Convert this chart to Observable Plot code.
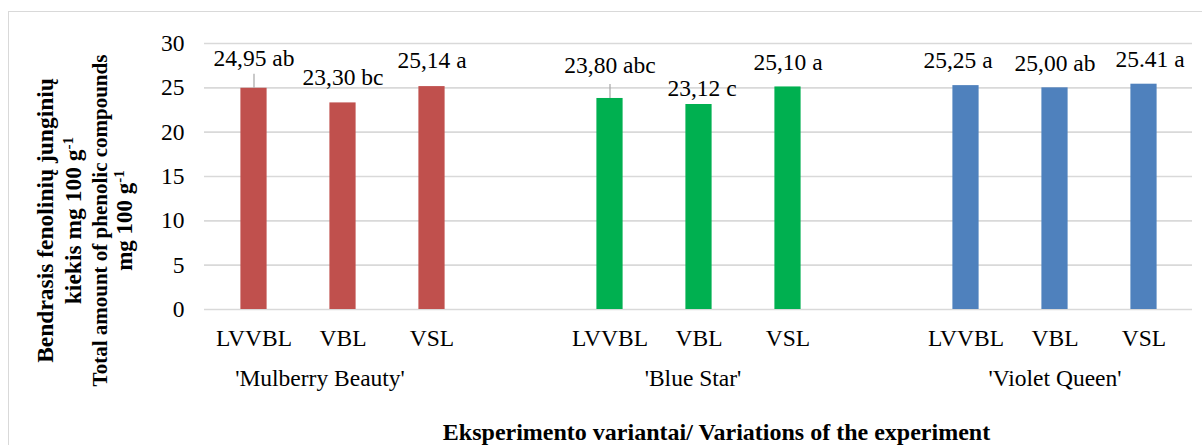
<!DOCTYPE html>
<html>
<head>
<meta charset="utf-8">
<script src="https://cdn.jsdelivr.net/npm/d3@7"></script>
<script src="https://cdn.jsdelivr.net/npm/@observablehq/plot@0.6"></script>
<style>
  html, body { margin: 0; padding: 0; background: #fff; overflow: hidden; }
  #wrap { position: relative; width: 1202px; height: 445px; overflow: hidden; }
  #border { position: absolute; left: 8px; top: 11px; width: 1210px; height: 450px; border: 1.5px solid #d9d9d9; box-sizing: border-box; }
  #chart { position: absolute; left: 0; top: 0; }
</style>
</head>
<body>
<div id="wrap"><div id="border"></div><div id="chart"></div></div>
<script>
// ---- data ----
const cultivars = ["'Mulberry Beauty'", "'Blue Star'", "'Violet Queen'"];
const variants = ["LVVBL", "VBL", "VSL"];
const values = [
  [24.95, 23.30, 25.14],
  [23.80, 23.12, 25.10],
  [25.25, 25.00, 25.41]
];
const valueLabels = [
  ["24,95 ab", "23,30 bc", "25,14 a"],
  ["23,80 abc", "23,12 c", "25,10 a"],
  ["25,25 a", "25,00 ab", "25.41 a"]
];
const yTicks = [0, 5, 10, 15, 20, 25, 30];
const yTitle = ["Bendrasis fenolinių junginių", "kiekis mg 100 g⁻¹", "Total amount of phenolic compounds", "mg 100 g⁻¹"];
const xTitle = "Eksperimento variantai/ Variations of the experiment";

// ---- styling (kept apart from the data) ----
const groupColors = ["#C0504D", "#00B050", "#4F81BD"];
const labelLift = [[30, 25, 26], [33, 16, 24], [25, 24, 25]];
const labelShift = [[0, 0, 0], [0, 3, 0], [-8, 0, 6]];
const hasLeader = [[true, false, false], [true, false, false], [false, false, false]];
const groupLabelShift = [-23, -6, 0];

// ---- build table ----
const slots = [];
const rows = [];
cultivars.forEach((c, gi) => {
  variants.forEach((v, vi) => {
    const key = `${gi}-${vi}`;
    slots.push(key);
    rows.push({key, gi, vi, cultivar: c, variant: v, value: values[gi][vi],
               label: valueLabels[gi][vi], lift: labelLift[gi][vi], shift: labelShift[gi][vi],
               leader: hasLeader[gi][vi], color: groupColors[gi]});
  });
  if (gi < cultivars.length - 1) slots.push(`gap${gi}`);
});
const middles = rows.filter(d => d.vi === 1);

const font = "'Liberation Serif', 'Times New Roman', serif";
const FS = 23.5;

const labelMarks = rows.map(d => Plot.text([d], {
  x: "key", y: "value", text: "label", dx: d.shift, dy: -d.lift, lineAnchor: "middle",
  fontSize: FS, fill: "#000"
}));

const groupMarks = middles.map(d => Plot.text([d], {
  x: "key", text: "cultivar", frameAnchor: "bottom", dx: groupLabelShift[d.gi], dy: 69,
  lineAnchor: "middle", fontSize: 23.5, fill: "#000"
}));

const yTitleMarks = [
  {t: yTitle[0], dx: -159, fs: 23.5},
  {t: yTitle[1], dx: -131, fs: 23.5},
  {t: yTitle[2], dx: -104, fs: 21},
  {t: yTitle[3], dx: -80, fs: 23}
].map(o => Plot.text([o.t], {
  text: d => d, frameAnchor: "left", rotate: -90, dx: o.dx, dy: 44,
  lineAnchor: "middle", textAnchor: "middle", fontWeight: "bold", fontSize: o.fs, fill: "#000"
}));

const plot = Plot.plot({
  width: 1202,
  height: 445,
  marginTop: 43,
  marginBottom: 136,
  marginLeft: 204,
  marginRight: 10,
  style: {fontFamily: font, background: "transparent", overflow: "visible"},
  x: {type: "band", domain: slots, padding: 0, axis: null},
  y: {domain: [0, 30], axis: null},
  marks: [
    Plot.ruleY(yTicks, {stroke: "#d9d9d9", strokeWidth: 1.6}),
    Plot.barY(rows, {x: "key", y: "value", fill: "color", insetLeft: 31.4, insetRight: 31.4}),
    Plot.ruleX(rows.filter(d => d.leader), {x: "key", y1: "value", y2: "value", insetTop: 0, insetBottom: 14, stroke: "#a6a6a6", strokeWidth: 1.2}),
    ...labelMarks,
    Plot.text(yTicks, {y: d => d, text: d => String(d), frameAnchor: "left", dx: -20, textAnchor: "end", lineAnchor: "middle", fontSize: FS, fill: "#000"}),
    Plot.text(rows, {x: "key", text: "variant", frameAnchor: "bottom", dy: 29, lineAnchor: "middle", fontSize: FS, fill: "#000"}),
    ...groupMarks,
    Plot.text([xTitle], {text: d => d, frameAnchor: "bottom", dx: 18, dy: 123, lineAnchor: "middle", fontWeight: "bold", fontSize: 24, fill: "#000"}),
    ...yTitleMarks
  ]
});

// render "⁻¹" as a real superscript
plot.querySelectorAll("text").forEach(t => {
  const s = t.textContent;
  if (s.endsWith("⁻¹") && t.children.length === 0) {
    t.textContent = s.slice(0, -2);
    const sup = document.createElementNS("http://www.w3.org/2000/svg", "tspan");
    sup.setAttribute("dy", "-0.5em");
    sup.setAttribute("font-size", "0.65em");
    sup.textContent = "-1";
    t.appendChild(sup);
  }
});

document.getElementById("chart").appendChild(plot);
</script>
</body>
</html>
